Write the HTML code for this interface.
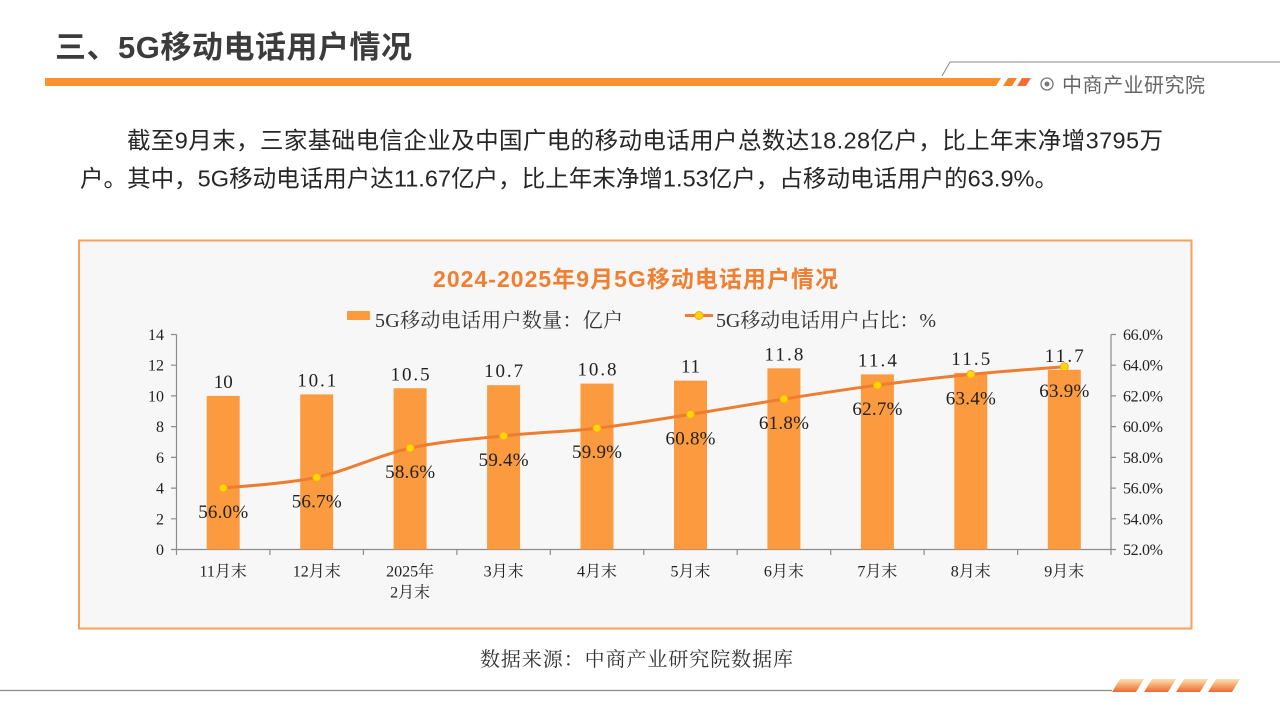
<!DOCTYPE html>
<html><head><meta charset="utf-8"><style>
html,body{margin:0;padding:0;background:#fff;}
svg{display:block;}
.sans{font-family:"Liberation Sans","Noto Sans CJK SC",sans-serif;}
.serif{font-family:"Liberation Serif","Noto Serif CJK SC",serif;}
</style></head><body>
<svg width="1280" height="720" viewBox="0 0 1280 720" xmlns="http://www.w3.org/2000/svg">
<defs>
<linearGradient id="sg" x1="0" y1="0" x2="0" y2="1">
<stop offset="0" stop-color="#fde2b0"/><stop offset="1" stop-color="#ee6a30"/>
</linearGradient>
</defs>
<rect width="1280" height="720" fill="#fff"/>

<!-- Header -->
<text x="55" y="58" class="sans" font-size="31" font-weight="bold" fill="#3c3c3c" textLength="357" lengthAdjust="spacing">三、5G移动电话用户情况</text>
<polygon points="45,78 1001,78 996,86 45,86" fill="#f7922d"/>
<polygon points="1008,78 1017,78 1012,86 1003,86" fill="#f5862e"/>
<polygon points="1022,78 1031,78 1026,86 1017,86" fill="#ef6f35"/>
<polyline points="942,76 950,62 1280,62" fill="none" stroke="#8a8a8a" stroke-width="1"/>
<circle cx="1047" cy="84" r="6" fill="none" stroke="#777" stroke-width="1.3"/>
<circle cx="1047" cy="84" r="2.5" fill="#777"/>
<text x="1062" y="92" class="sans" font-size="20" fill="#666" textLength="143" lengthAdjust="spacing">中商产业研究院</text>

<!-- Paragraph -->
<text x="127" y="148.5" class="sans" font-size="23.5" fill="#262626" textLength="1036" lengthAdjust="spacing">截至9月末，三家基础电信企业及中国广电的移动电话用户总数达18.28亿户，比上年末净增3795万</text>
<text x="80" y="186.5" class="sans" font-size="23.5" fill="#262626" textLength="978" lengthAdjust="spacing">户。其中，5G移动电话用户达11.67亿户，比上年末净增1.53亿户，占移动电话用户的63.9%。</text>

<!-- Chart box -->
<rect x="79" y="240.5" width="1112.5" height="388" fill="#f7f7f7" stroke="#f4a25a" stroke-width="2"/>
<text x="635.5" y="287" text-anchor="middle" class="sans" font-size="23" font-weight="bold" fill="#f07f32" textLength="405" lengthAdjust="spacing">2024-2025年9月5G移动电话用户情况</text>

<!-- Legend -->
<rect x="347" y="311" width="23" height="9" fill="#fb9a3e"/>
<text x="375" y="327" class="serif" font-size="20" fill="#333" textLength="248" lengthAdjust="spacing">5G移动电话用户数量：亿户</text>
<line x1="685" y1="315.5" x2="713" y2="315.5" stroke="#ed7d31" stroke-width="3"/>
<circle cx="699" cy="315.5" r="4" fill="#ffd700" stroke="#f5a623" stroke-width="1"/>
<text x="716" y="327" class="serif" font-size="20" fill="#333" textLength="220" lengthAdjust="spacing">5G移动电话用户占比：%</text>

<!-- Axes -->
<g stroke="#8c8c8c" stroke-width="1.2" fill="none">
<line x1="176.5" y1="334.5" x2="176.5" y2="549.5"/>
<line x1="1111" y1="334.5" x2="1111" y2="549.5"/>
<line x1="176.5" y1="549.5" x2="1111" y2="549.5"/>
<path d="M171,549.5H176.5M171,518.8H176.5M171,488.1H176.5M171,457.4H176.5M171,426.6H176.5M171,395.9H176.5M171,365.2H176.5M171,334.5H176.5"/>
<path d="M1111,549.5H1116M1111,518.8H1116M1111,488.1H1116M1111,457.4H1116M1111,426.6H1116M1111,395.9H1116M1111,365.2H1116M1111,334.5H1116"/>
<path d="M176.5,549.5V555M269.9,549.5V555M363.4,549.5V555M456.9,549.5V555M550.3,549.5V555M643.8,549.5V555M737.2,549.5V555M830.7,549.5V555M924.1,549.5V555M1017.6,549.5V555M1111,549.5V555"/>
</g>

<g class="serif" font-size="16" fill="#222" text-anchor="end">
<text x="164" y="555">0</text>
<text x="164" y="524.3">2</text>
<text x="164" y="493.6">4</text>
<text x="164" y="462.9">6</text>
<text x="164" y="432.1">8</text>
<text x="164" y="401.4">10</text>
<text x="164" y="370.7">12</text>
<text x="164" y="340">14</text>
</g>
<g class="serif" font-size="16" fill="#222">
<text x="1123" y="555" textLength="40" lengthAdjust="spacing">52.0%</text>
<text x="1123" y="524.3" textLength="40" lengthAdjust="spacing">54.0%</text>
<text x="1123" y="493.6" textLength="40" lengthAdjust="spacing">56.0%</text>
<text x="1123" y="462.9" textLength="40" lengthAdjust="spacing">58.0%</text>
<text x="1123" y="432.1" textLength="40" lengthAdjust="spacing">60.0%</text>
<text x="1123" y="401.4" textLength="40" lengthAdjust="spacing">62.0%</text>
<text x="1123" y="370.7" textLength="40" lengthAdjust="spacing">64.0%</text>
<text x="1123" y="340" textLength="40" lengthAdjust="spacing">66.0%</text>
</g>

<!-- Bars -->
<g fill="#fb9a3e">
<rect x="206.7" y="395.9" width="33" height="153.6"/>
<rect x="300.2" y="394.4" width="33" height="155.1"/>
<rect x="393.6" y="388.25" width="33" height="161.25"/>
<rect x="487.1" y="385.2" width="33" height="164.3"/>
<rect x="580.5" y="383.6" width="33" height="165.9"/>
<rect x="674" y="380.6" width="33" height="168.9"/>
<rect x="767.4" y="368.3" width="33" height="181.2"/>
<rect x="860.9" y="374.4" width="33" height="175.1"/>
<rect x="954.3" y="372.9" width="33" height="176.6"/>
<rect x="1047.8" y="369.8" width="33" height="179.7"/>
</g>

<!-- Bar value labels -->
<g class="serif" font-size="19" fill="#222" text-anchor="middle">
<text x="223.2" y="387.9" textLength="19" lengthAdjust="spacing">10</text>
<text x="316.7" y="386.4" textLength="39" lengthAdjust="spacing">10.1</text>
<text x="410.1" y="380.25" textLength="39" lengthAdjust="spacing">10.5</text>
<text x="503.6" y="377.2" textLength="39" lengthAdjust="spacing">10.7</text>
<text x="597" y="375.6" textLength="39" lengthAdjust="spacing">10.8</text>
<text x="690.5" y="372.6" textLength="19" lengthAdjust="spacing">11</text>
<text x="783.9" y="360.3" textLength="39" lengthAdjust="spacing">11.8</text>
<text x="877.4" y="366.4" textLength="39" lengthAdjust="spacing">11.4</text>
<text x="970.8" y="364.9" textLength="39" lengthAdjust="spacing">11.5</text>
<text x="1064.3" y="361.8" textLength="39" lengthAdjust="spacing">11.7</text>
</g>

<!-- Line -->
<path d="M223.2,488.1 C238.8,486.3 285.55,483.97 316.7,477.3 C347.85,470.63 378.95,455 410.1,448.1 C441.25,441.2 472.45,439.22 503.6,435.9 C534.75,432.58 565.85,431.78 597,428.2 C628.15,424.62 659.35,419.27 690.5,414.4 C721.65,409.53 752.75,403.87 783.9,399 C815.05,394.13 846.25,389.3 877.4,385.2 C908.55,381.1 939.65,377.48 970.8,374.4 C1001.95,371.33 1048.72,368.03 1064.3,366.75" fill="none" stroke="#ed7d31" stroke-width="3" stroke-linecap="round"/>
<g fill="#ffd700" stroke="#f5a623" stroke-width="1">
<circle cx="223.2" cy="488.1" r="4"/>
<circle cx="316.7" cy="477.3" r="4"/>
<circle cx="410.1" cy="448.1" r="4"/>
<circle cx="503.6" cy="435.9" r="4"/>
<circle cx="597" cy="428.2" r="4"/>
<circle cx="690.5" cy="414.4" r="4"/>
<circle cx="783.9" cy="399" r="4"/>
<circle cx="877.4" cy="385.2" r="4"/>
<circle cx="970.8" cy="374.4" r="4"/>
<circle cx="1064.3" cy="366.75" r="4"/>
</g>

<!-- Percent labels -->
<g class="serif" font-size="19" fill="#222" text-anchor="middle">
<text x="223.2" y="518.1" textLength="50" lengthAdjust="spacing">56.0%</text>
<text x="316.7" y="507.3" textLength="50" lengthAdjust="spacing">56.7%</text>
<text x="410.1" y="478.1" textLength="50" lengthAdjust="spacing">58.6%</text>
<text x="503.6" y="465.9" textLength="50" lengthAdjust="spacing">59.4%</text>
<text x="597" y="458.2" textLength="50" lengthAdjust="spacing">59.9%</text>
<text x="690.5" y="444.4" textLength="50" lengthAdjust="spacing">60.8%</text>
<text x="783.9" y="429" textLength="50" lengthAdjust="spacing">61.8%</text>
<text x="877.4" y="415.2" textLength="50" lengthAdjust="spacing">62.7%</text>
<text x="970.8" y="404.4" textLength="50" lengthAdjust="spacing">63.4%</text>
<text x="1064.3" y="396.75" textLength="50" lengthAdjust="spacing">63.9%</text>
</g>

<!-- X labels -->
<g class="serif" font-size="16" fill="#222" text-anchor="middle">
<text x="223.2" y="576.5">11月末</text>
<text x="316.7" y="576.5">12月末</text>
<text x="410.1" y="576.5">2025年</text>
<text x="410.1" y="597.5">2月末</text>
<text x="503.6" y="576.5">3月末</text>
<text x="597" y="576.5">4月末</text>
<text x="690.5" y="576.5">5月末</text>
<text x="783.9" y="576.5">6月末</text>
<text x="877.4" y="576.5">7月末</text>
<text x="970.8" y="576.5">8月末</text>
<text x="1064.3" y="576.5">9月末</text>
</g>

<!-- Source -->
<text x="480" y="666" class="serif" font-size="20" fill="#333" textLength="313" lengthAdjust="spacing">数据来源：中商产业研究院数据库</text>

<!-- Footer -->
<line x1="0" y1="690.5" x2="1112" y2="690.5" stroke="#8a8a8a" stroke-width="1.3"/>
<g fill="url(#sg)">
<polygon points="1112,692 1120,679 1144,679 1136,692"/>
<polygon points="1144,692 1152,679 1176,679 1168,692"/>
<polygon points="1176,692 1184,679 1208,679 1200,692"/>
<polygon points="1208,692 1216,679 1240,679 1232,692"/>
</g>
</svg>
</body></html>
